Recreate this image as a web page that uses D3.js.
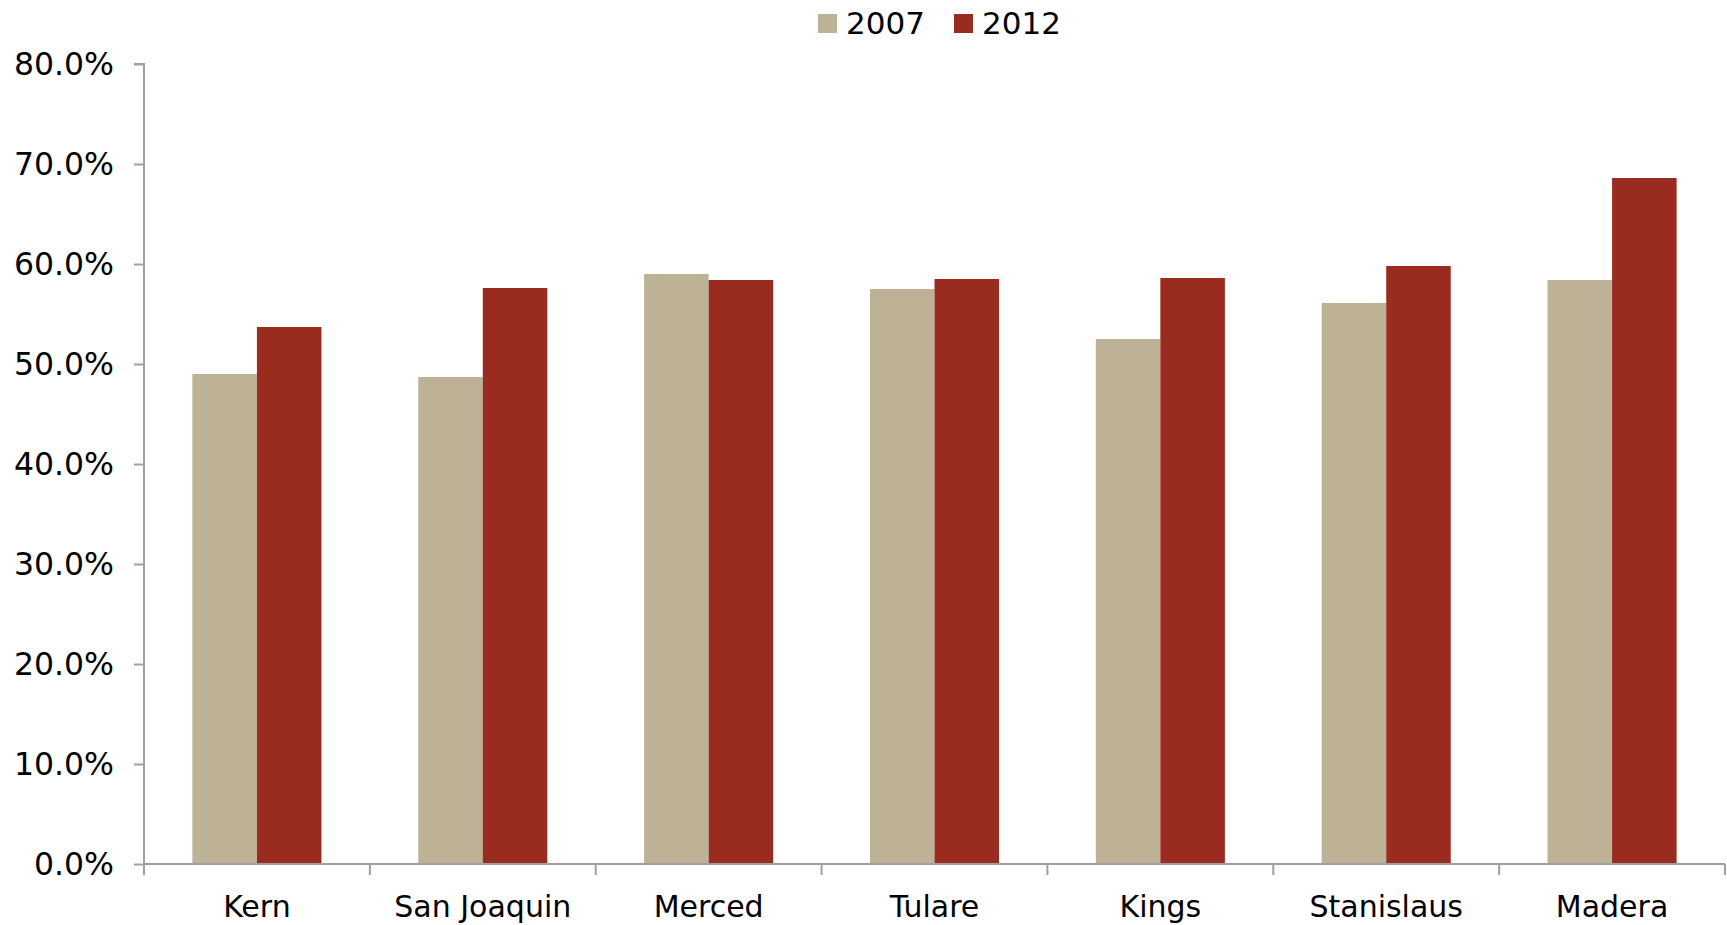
<!DOCTYPE html>
<html>
<head>
<meta charset="utf-8">
<script src="https://cdn.jsdelivr.net/npm/d3@7"></script>
<style>
  html, body { margin: 0; padding: 0; background: #ffffff; }
  svg { display: block; }
  text { font-family: "Century Gothic", "DejaVu Sans", sans-serif; fill: #000; }
</style>
</head>
<body>
<svg id="chart" width="1727" height="925"></svg>
<script>
// Counties and the share recorded in each year (percent)
const counties = ["Kern", "San Joaquin", "Merced", "Tulare", "Kings", "Stanislaus", "Madera"];
const seriesNames = ["2007", "2012"];
const values2007 = [49.0, 48.7, 59.0, 57.5, 52.5, 56.1, 58.4];
const values2012 = [53.7, 57.6, 58.4, 58.5, 58.6, 59.8, 68.6];
const yTicks = [0, 10, 20, 30, 40, 50, 60, 70, 80];
const colors = ["#BDB295", "#9A2B1F"];

const svg = d3.select("#chart");
const margin = { left: 144, right: 2, top: 64, bottom: 61 };
const width = 1727, height = 925;
const axisColor = "#A0A0A0";

const x0 = d3.scaleBand()
  .domain(counties)
  .range([margin.left, width - margin.right])
  .padding(0);

// two bars side by side, gap between groups of 1.5 bar widths
const x1 = d3.scaleBand()
  .domain(seriesNames)
  .range([0, x0.bandwidth()])
  .paddingInner(0)
  .paddingOuter(0.75);

const y = d3.scaleLinear()
  .domain([0, 80])
  .range([height - margin.bottom, margin.top]);

const rows = counties.map((c, i) => ({
  county: c,
  vals: [
    { series: seriesNames[0], v: values2007[i], color: colors[0] },
    { series: seriesNames[1], v: values2012[i], color: colors[1] }
  ]
}));

// bars
const groups = svg.append("g")
  .selectAll("g")
  .data(rows)
  .join("g")
  .attr("transform", d => `translate(${x0(d.county)},0)`);

groups.selectAll("rect")
  .data(d => d.vals)
  .join("rect")
  .attr("x", d => x1(d.series))
  .attr("y", d => y(d.v))
  .attr("width", x1.bandwidth())
  .attr("height", d => y(0) - y(d.v))
  .attr("fill", d => d.color);

// y axis
const yAxis = svg.append("g")
  .attr("transform", `translate(${margin.left},0)`)
  .call(d3.axisLeft(y)
    .tickValues(yTicks)
    .tickSize(10)
    .tickPadding(20)
    .tickFormat(d => d.toFixed(1) + "%"));
yAxis.select(".domain").attr("stroke", axisColor).attr("stroke-width", 2)
  .attr("d", `M-10,${y(80)}H0V${y(0) + 11}`);
yAxis.selectAll(".tick line").attr("stroke", axisColor).attr("stroke-width", 2);
yAxis.selectAll(".tick text")
  .style("font-family", "\"Century Gothic\", \"DejaVu Sans\", sans-serif")
  .attr("font-size", 31.5)
  .attr("fill", "#000");

// x axis with ticks at category boundaries
const xAxisG = svg.append("g")
  .attr("transform", `translate(0,${y(0)})`);
xAxisG.append("line")
  .attr("x1", margin.left).attr("x2", width - margin.right)
  .attr("y1", 0).attr("y2", 0)
  .attr("stroke", axisColor).attr("stroke-width", 2);
const boundaries = counties.map(c => x0(c)).concat([x0(counties[counties.length - 1]) + x0.bandwidth()]);
xAxisG.selectAll("line.bt")
  .data(boundaries.slice(1))
  .join("line")
  .attr("class", "bt")
  .attr("x1", d => d).attr("x2", d => d)
  .attr("y1", 0).attr("y2", 11)
  .attr("stroke", axisColor).attr("stroke-width", 2);
xAxisG.selectAll("text")
  .data(counties)
  .join("text")
  .attr("x", d => x0(d) + x0.bandwidth() / 2)
  .attr("y", 53)
  .attr("text-anchor", "middle")
  .attr("font-size", 30)
  .text(d => d);

// legend
const legend = svg.append("g");
const legendItems = [
  { name: seriesNames[0], color: colors[0], x: 818 },
  { name: seriesNames[1], color: colors[1], x: 954 }
];
legendItems.forEach(it => {
  legend.append("rect")
    .attr("x", it.x).attr("y", 14)
    .attr("width", 19).attr("height", 19)
    .attr("fill", it.color);
  legend.append("text")
    .attr("x", it.x + 28).attr("y", 34)
    .attr("font-size", 31)
    .text(it.name);
});
</script>
</body>
</html>
